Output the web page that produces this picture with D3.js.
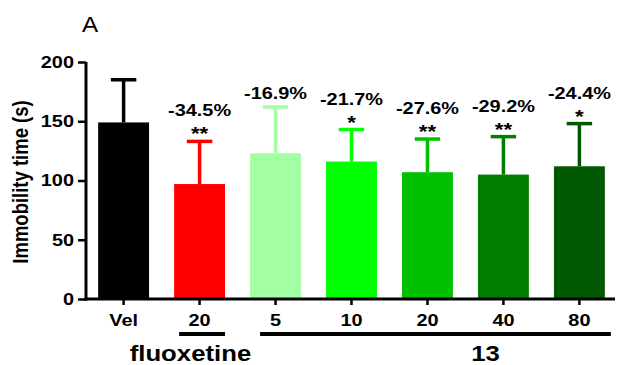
<!DOCTYPE html>
<html>
<head>
<meta charset="utf-8">
<script src="https://cdn.jsdelivr.net/npm/d3@7"></script>
<style>
  body { margin: 0; background: #fff; }
  text { font-family: "Liberation Sans", Arial, sans-serif; fill: #000; }
</style>
</head>
<body>
<svg id="chart" width="617" height="365"></svg>
<script>
// data
const groups = ["Vel", "fluox20", "c5", "c10", "c20", "c40", "c80"];
const tickLabels = ["Vel", "20", "5", "10", "20", "40", "80"];
const means = [149, 97, 123, 116, 107, 105, 112];
const sems = [36, 36, 39, 27, 28, 32, 36];
const changes = ["", "-34.5%", "-16.9%", "-21.7%", "-27.6%", "-29.2%", "-24.4%"];
const stars = ["", "**", "", "*", "**", "**", "*"];
const colors = ["#000000", "#ff0000", "#a3ffa3", "#00ff00", "#00c000", "#007e00", "#005800"];
const yTicks = [0, 50, 100, 150, 200];

const SX = 1.17; // the source is stretched sideways a bit

const svg = d3.select("#chart");

const x = d3.scaleBand()
  .domain(groups)
  .range([86, 617])
  .paddingInner(0.33)
  .paddingOuter(0.16);

const y = d3.scaleLinear()
  .domain([0, 200])
  .range([299, 62]);

// bars
svg.selectAll(".bar")
  .data(groups)
  .join("rect")
  .attr("class", "bar")
  .attr("x", d => x(d))
  .attr("width", x.bandwidth())
  .attr("y", (d, i) => y(means[i]))
  .attr("height", (d, i) => y(0) - y(means[i]))
  .attr("fill", (d, i) => colors[i]);

// error bars (upper only)
const capW = x.bandwidth() / 2;
const err = svg.append("g");
groups.forEach((g, i) => {
  const cx = x(g) + x.bandwidth() / 2;
  const top = y(means[i] + sems[i]);
  err.append("line")
    .attr("x1", cx).attr("x2", cx)
    .attr("y1", y(means[i])).attr("y2", top)
    .attr("stroke", colors[i]).attr("stroke-width", 3.5);
  err.append("line")
    .attr("x1", cx - capW / 2).attr("x2", cx + capW / 2)
    .attr("y1", top).attr("y2", top)
    .attr("stroke", colors[i]).attr("stroke-width", 3.5);

  // stars and percent labels above the error bar
  let level = top - 12;
  if (stars[i]) {
    svg.append("text")
      .attr("transform", `translate(${cx},${level + 11}) scale(${SX},1)`)
      .attr("text-anchor", "middle")
      .style("font-size", "19px").style("font-weight", "bold")
      .text(stars[i]);
    level -= 19;
  } else {
    level += -2;
  }
  if (changes[i]) {
    svg.append("text")
      .attr("transform", `translate(${cx},${level + 6}) scale(${SX},1)`)
      .attr("text-anchor", "middle")
      .style("font-size", "17px").style("font-weight", "bold")
      .text(changes[i]);
  }
});

// y axis
const yAxis = d3.axisLeft(y)
  .tickValues(yTicks)
  .tickSize(8)
  .tickSizeOuter(0);
const gy = svg.append("g")
  .attr("transform", "translate(86,0)")
  .call(yAxis);
gy.select(".domain").attr("stroke-width", 3).attr("d", `M0,${y(0) + 1.5}V${y(200)}`);
gy.selectAll(".tick line").attr("stroke-width", 2.5);
gy.selectAll(".tick text")
  .attr("x", null)
  .attr("transform", `translate(-12,0) scale(${SX},1)`)
  .style("font-size", "17px").style("font-weight", "bold")
  .style("font-family", "'Liberation Sans', Arial, sans-serif")
  .attr("fill", "#000");

// x axis
const xAxis = d3.axisBottom(x)
  .tickSize(6)
  .tickSizeOuter(0)
  .tickFormat((d, i) => tickLabels[i]);
const gx = svg.append("g")
  .attr("transform", `translate(0,${y(0)})`)
  .call(xAxis);
gx.select(".domain").attr("stroke-width", 3).attr("d", "M84.5,0H615");
gx.selectAll(".tick line").attr("stroke-width", 2.5);
gx.selectAll(".tick text")
  .attr("y", null).attr("dy", null)
  .attr("transform", `translate(0,27) scale(${SX},1)`)
  .style("font-size", "17px").style("font-weight", "bold")
  .style("font-family", "'Liberation Sans', Arial, sans-serif")
  .attr("fill", "#000");

// group underlines and names
const bw = x.bandwidth();
const step = x.step();
const fluoxLine = [x("fluox20") + 5, x("fluox20") + bw];
const cmpLine = [x("c5") + 10, x("c80") + bw + 6];
[fluoxLine, cmpLine].forEach(l => {
  svg.append("line")
    .attr("x1", l[0]).attr("x2", l[1])
    .attr("y1", 334).attr("y2", 334)
    .attr("stroke", "#000").attr("stroke-width", 4);
});
svg.append("text")
  .attr("transform", `translate(${x("Vel") + bw / 2 + 0.88 * step},361) scale(${SX},1)`)
  .attr("text-anchor", "middle")
  .style("font-size", "22px").style("font-weight", "bold")
  .text("fluoxetine");
svg.append("text")
  .attr("transform", `translate(${x("c20") + bw / 2 + 58},361) scale(${SX},1)`)
  .attr("text-anchor", "middle")
  .style("font-size", "22px").style("font-weight", "bold")
  .text("13");

// y title
svg.append("text")
  .attr("transform", `translate(28,182) scale(${SX},1) rotate(-90)`)
  .attr("text-anchor", "middle")
  .style("font-size", "18.5px").style("font-weight", "bold")
  .text("Immobility time (s)");

// panel letter
svg.append("text")
  .attr("transform", `translate(82,32) scale(1.1,1)`)
  .style("font-size", "22px")
  .text("A");
</script>
</body>
</html>
